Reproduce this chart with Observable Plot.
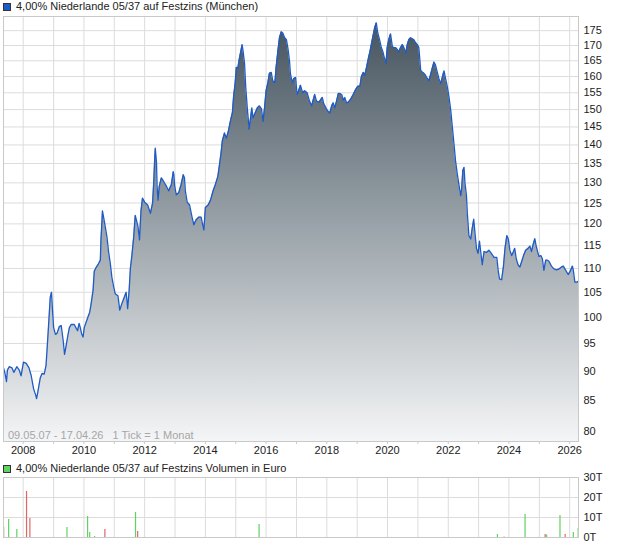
<!DOCTYPE html>
<html><head><meta charset="utf-8">
<script src="https://cdn.jsdelivr.net/npm/d3@7"></script>
<script src="https://cdn.jsdelivr.net/npm/@observablehq/plot@0.6"></script>
<style>
body{margin:0;background:#fff;font-family:"Liberation Sans",Arial,sans-serif;}
#wrap{position:relative;width:620px;height:546px;overflow:hidden;}
.legend{position:absolute;left:3px;height:13px;line-height:13px;font-size:11px;color:#222;display:flex;align-items:center;white-space:nowrap}
.sw{width:6px;height:6px;border:1px solid #333;margin-right:5px;display:inline-block}
.info{position:absolute;left:8px;top:429px;height:13px;line-height:13px;font-size:11px;color:#a6a6a6;white-space:pre}
svg{display:block}
</style></head><body>
<div id="wrap">
  <div id="main" style="position:absolute;left:0;top:14px"></div>
  <div class="legend" style="top:0px"><span class="sw" style="background:#1f5bc6"></span>4,00% Niederlande 05/37 auf Festzins (München)</div>
  <div class="info">09.05.07 - 17.04.26   1 Tick = 1 Monat</div>
  <div class="legend" style="top:462px"><span class="sw" style="background:#5fd35f"></span>4,00% Niederlande 05/37 auf Festzins Volumen in Euro</div>
  <div id="vol" style="position:absolute;left:0;top:474px"></div>
</div>
<script>
// ---------- data ----------
const startDate = "2007-05-09";
const endDate = "2026-04-17";
const priceYears = [2007.353,2007.40,2007.45,2007.48,2007.54,2007.63,2007.69,2007.79,2007.87,2007.93,
2008.01,2008.10,2008.19,2008.26,2008.34,2008.41,2008.44,2008.48,2008.56,2008.62,2008.69,2008.75,2008.78,2008.82,2008.86,2008.89,2008.93,2008.97,
2009.00,2009.06,2009.11,2009.19,2009.25,2009.31,2009.36,2009.41,2009.47,2009.52,2009.58,2009.68,2009.75,2009.79,2009.84,2009.88,2009.92,2009.97,
2010.01,2010.07,2010.13,2010.19,2010.23,2010.30,2010.34,2010.41,2010.48,2010.54,2010.56,2010.59,2010.61,2010.65,2010.70,2010.76,2010.81,2010.87,2010.92,2010.98,
2011.03,2011.12,2011.18,2011.25,2011.33,2011.39,2011.44,2011.49,2011.53,2011.58,2011.64,2011.69,2011.73,2011.78,2011.83,2011.88,2011.93,
2012.00,2012.10,2012.19,2012.26,2012.30,2012.33,2012.35,2012.39,2012.41,2012.44,2012.48,2012.55,2012.63,2012.72,2012.79,2012.88,2012.94,2012.96,2012.99,
2013.04,2013.12,2013.20,2013.27,2013.31,2013.34,2013.40,2013.48,2013.56,2013.62,2013.69,2013.78,2013.86,2013.91,2013.95,
2014.00,2014.09,2014.17,2014.25,2014.33,2014.41,2014.47,2014.52,2014.56,2014.63,2014.69,2014.76,2014.83,2014.89,2014.93,2014.98,
2015.02,2015.07,2015.10,2015.13,2015.18,2015.21,2015.24,2015.29,2015.33,2015.38,2015.42,2015.44,2015.49,2015.53,2015.57,2015.63,2015.71,2015.78,2015.85,2015.90,2015.95,
2016.00,2016.06,2016.11,2016.17,2016.22,2016.29,2016.33,2016.39,2016.44,2016.50,2016.55,2016.61,2016.67,2016.72,2016.77,2016.80,2016.86,2016.91,2016.97,
2017.02,2017.07,2017.13,2017.20,2017.27,2017.35,2017.43,2017.50,2017.55,2017.60,2017.66,2017.74,2017.79,2017.85,2017.90,2017.97,
2018.03,2018.10,2018.16,2018.21,2018.26,2018.32,2018.38,2018.43,2018.49,2018.54,2018.59,2018.65,2018.71,2018.78,2018.87,2018.95,
2019.02,2019.09,2019.14,2019.20,2019.25,2019.31,2019.37,2019.42,2019.47,2019.53,2019.58,2019.63,2019.68,2019.74,2019.79,2019.85,2019.90,2019.95,2019.99,
2020.04,2020.10,2020.16,2020.21,2020.27,2020.32,2020.37,2020.43,2020.49,2020.54,2020.60,2020.65,2020.70,2020.76,2020.82,2020.87,2020.92,2020.98,
2021.03,2021.07,2021.09,2021.15,2021.20,2021.25,2021.31,2021.36,2021.42,2021.48,2021.53,2021.58,2021.64,2021.69,2021.75,2021.81,2021.86,2021.91,2021.97,
2022.02,2022.08,2022.13,2022.19,2022.24,2022.30,2022.35,2022.41,2022.44,2022.48,2022.52,2022.55,2022.60,2022.63,2022.68,2022.74,2022.79,2022.84,2022.88,2022.93,2022.98,
2023.03,2023.07,2023.12,2023.18,2023.26,2023.34,2023.42,2023.51,2023.60,2023.65,2023.69,2023.76,2023.82,2023.87,2023.93,2023.98,
2024.03,2024.09,2024.15,2024.19,2024.24,2024.30,2024.36,2024.42,2024.48,2024.55,2024.63,2024.69,2024.74,2024.79,2024.85,2024.89,2024.94,2024.99,
2025.05,2025.10,2025.15,2025.21,2025.27,2025.32,2025.40,2025.48,2025.57,2025.65,2025.73,2025.79,2025.87,2025.95,
2026.01,2026.09,2026.12,2026.17,2026.24,2026.292];
const priceValues = [90.6,89.6,88.2,90.2,90.8,90.6,89.8,90.8,90.2,89.2,
91.6,91.4,90.6,89.3,87.0,85.9,85.3,86.4,88.8,89.6,89.5,91.0,93.5,97.1,101.0,104.0,105.0,100.8,
98.0,96.7,96.9,98.2,98.4,95.8,93.0,94.5,96.5,98.0,98.6,98.6,97.8,97.4,98.8,98.0,96.9,96.2,
98.0,99.0,100.0,101.0,102.4,105.4,109.4,110.3,111.0,111.8,116.3,120.2,123.1,121.5,119.4,116.9,113.7,111.0,108.1,106.1,
104.7,104.3,101.4,102.7,104.0,105.0,101.7,105.4,110.0,112.8,117.0,122.0,120.9,119.4,116.3,123.1,126.2,
125.2,124.5,122.5,124.9,130.3,136.1,139.1,135.3,129.1,125.7,129.1,131.3,130.3,129.1,128.0,129.6,132.9,132.1,129.1,
127.0,127.5,129.6,132.1,131.3,127.9,125.2,124.5,121.6,119.8,120.9,121.6,121.6,119.8,118.6,
123.9,124.5,125.7,127.9,129.6,131.6,135.0,138.1,141.2,143.3,141.8,143.9,146.9,149.1,153.9,157.8,
162.9,162.6,164.6,166.2,168.7,170.3,168.3,164.2,156.7,150.5,146.6,144.4,147.6,150.5,147.6,148.8,150.5,151.1,150.2,146.6,150.5,
155.6,158.1,161.0,161.3,158.7,158.1,162.9,168.3,172.6,174.6,174.2,172.6,171.9,169.0,165.0,161.0,158.1,159.4,159.7,
154.5,155.6,157.3,155.0,155.6,155.0,152.5,151.1,152.8,154.5,152.5,152.2,152.8,153.6,151.7,150.5,
149.6,149.0,151.1,152.0,150.5,152.5,154.8,154.8,154.5,152.8,153.6,152.0,152.2,153.0,154.5,156.0,
157.0,157.0,160.0,161.3,160.4,162.9,165.8,167.9,170.5,173.6,176.1,177.7,174.2,171.9,169.6,167.9,165.8,164.2,169.3,
171.9,173.9,169.6,169.3,169.3,168.7,167.9,169.3,170.3,169.3,167.5,170.3,171.9,172.6,172.2,171.9,171.0,170.3,
169.3,164.6,162.0,161.3,161.0,160.4,159.4,158.7,160.7,162.9,164.6,163.6,161.3,159.4,157.8,160.0,161.8,159.4,156.8,
154.0,150.0,145.4,140.2,135.7,132.1,129.6,126.8,128.4,133.2,134.0,130.0,126.8,122.3,117.3,116.5,119.0,121.1,117.9,114.4,113.3,
116.0,113.7,110.8,113.7,113.5,114.0,113.3,112.4,112.4,109.3,107.8,107.6,110.5,114.4,117.3,116.5,
114.0,112.8,113.7,114.4,112.1,110.8,110.3,111.5,112.8,114.0,114.4,114.9,113.7,115.1,116.6,115.1,113.7,112.6,
112.8,112.1,109.6,111.8,111.8,111.5,110.5,109.9,109.7,109.9,110.3,110.5,109.6,108.7,
109.3,110.5,109.6,107.1,107.1,107.3];

const volYears = [2007.36,2007.52,2007.79,2008.11,2008.22,2009.44,2010.12,2010.19,2010.35,2010.69,2011.70,2011.77,2015.77,2023.62,2023.84,2024.53,2025.19,2025.24,2025.68,2025.85,2026.12,2026.28];
const volValues = [5,9,4,23,9.5,5,10.5,2.5,0.5,4,12.5,3,6.5,1.5,0.3,11.5,1.5,1.2,11,1.5,2.5,4.5];
const volDirection = ["neutral","up","up","down","down","up","up","up","up","down","up","down","up","up","up","up","down","up","up","down","up","up"];

const priceTicks = [80,85,90,95,100,105,110,115,120,125,130,135,140,145,150,155,160,165,170,175];
const volTicks = [0,10,20,30];
const volTickLabels = ["0T","10T","20T","30T"];
const gridYears = d3.range(2008, 2027);
const labelYears = [2008,2010,2012,2014,2016,2018,2020,2022,2024,2026];

// ---------- helpers ----------
const toDate = t => { const y = Math.floor(t); const s = Date.UTC(y,0,1), e = Date.UTC(y+1,0,1); return new Date(s + (t - y) * (e - s)); };
const jan1 = y => new Date(Date.UTC(y,0,1));
const xDomain = [new Date(startDate), new Date(endDate)];
const price = priceYears.map((t,i) => ({date: toDate(t), v: priceValues[i]}));
const vol = volYears.map((t,i) => ({date: toDate(t), v: volValues[i], dir: volDirection[i]}));
const yMin = 78.46, yMax = 179.9;
const gridCol = "#dcdcdc", frameCol = "#c9c9c9";
const font = {fontFamily: "'Liberation Sans', Arial, sans-serif", fontSize: "11px", color: "#222", background: "transparent", overflow: "visible"};

// ---------- main chart ----------
const main = Plot.plot({
  width: 620, height: 446,
  marginLeft: 3, marginRight: 42, marginTop: 2, marginBottom: 19,
  style: font,
  x: {type: "utc", domain: xDomain, axis: null},
  y: {type: "log", domain: [yMin, yMax], axis: null},
  marks: [
    Plot.ruleY(priceTicks, {stroke: gridCol, strokeWidth: 1}),
    Plot.ruleX(gridYears.map(jan1), {stroke: gridCol, strokeWidth: 1}),
    Plot.areaY(price, {x: "date", y1: yMin, y2: "v", fill: "url(#pg)"}),
    Plot.line(price, {x: "date", y: "v", stroke: "#1f5bc6", strokeWidth: 1.3}),
    Plot.frame({stroke: frameCol}),
    Plot.ruleX(gridYears.map(jan1), {y1: 78.0, y2: yMin, stroke: frameCol}),
    Plot.text(priceTicks, {x: xDomain[1], y: d => d, text: d => String(d), textAnchor: "start", dx: 5, fill: "#222"}),
    Plot.text(labelYears, {x: d => jan1(d), y: yMin, text: d => String(d), dy: 9, fill: "#222"})
  ]
});
const ns = "http://www.w3.org/2000/svg";
const defs = document.createElementNS(ns, "defs");
defs.innerHTML = '<linearGradient id="pg" gradientUnits="userSpaceOnUse" x1="0" y1="2" x2="0" y2="427"><stop offset="0" stop-color="#44525d"/><stop offset="0.5" stop-color="#9ba4aa"/><stop offset="1" stop-color="#f4f5f6"/></linearGradient>';
main.insertBefore(defs, main.firstChild);
document.getElementById("main").appendChild(main);

// ---------- volume chart ----------
const volPlot = Plot.plot({
  width: 620, height: 72,
  marginLeft: 3, marginRight: 42, marginTop: 3, marginBottom: 9,
  style: font,
  x: {type: "utc", domain: xDomain, axis: null},
  y: {domain: [0, 30], axis: null},
  color: {domain: ["up","down","neutral"], range: ["#5fd35f","#e06666","#b5b5b5"]},
  marks: [
    Plot.ruleY(volTicks, {stroke: gridCol}),
    Plot.ruleX(gridYears.map(jan1), {stroke: gridCol}),
    Plot.ruleX(vol, {x: "date", y1: 0, y2: "v", stroke: "dir", strokeWidth: 1.2}),
    Plot.frame({stroke: frameCol}),
    Plot.text(volTicks, {x: xDomain[1], y: d => d, text: (d,i) => volTickLabels[i], textAnchor: "start", dx: 5, fill: "#222"})
  ]
});
document.getElementById("vol").appendChild(volPlot);
</script>
</body></html>
